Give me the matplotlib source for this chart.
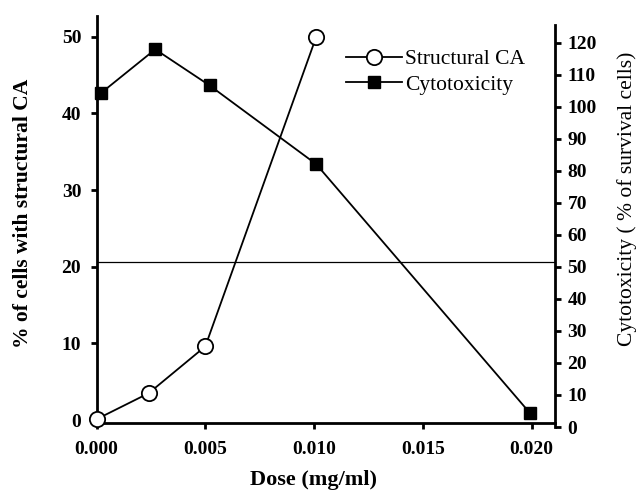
import matplotlib
matplotlib.use("Agg")
import matplotlib.pyplot as plt
from matplotlib.lines import Line2D

plt.rcParams['font.family'] = ['Liberation Serif', 'DejaVu Serif']

# Data
dose_ca = [0.0, 0.0024, 0.0050, 0.0101]
structural_ca = [0.1, 3.5, 9.6, 50.0]
dose_cyto = [0.0002, 0.0027, 0.0052, 0.0101, 0.0199]
cytotoxicity = [104.3, 118.0, 106.7, 82.1, 4.5]
ref_level = 20.6  # horizontal reference line (left axis units)

x_ticks = [0.000, 0.005, 0.010, 0.015, 0.020]
x_ticklabels = ["0.000", "0.005", "0.010", "0.015", "0.020"]
left_ticks = [0, 10, 20, 30, 40, 50]
right_ticks = list(range(0, 121, 10))

W, H = 643, 493
fig = plt.figure(figsize=(W / 100, H / 100), dpi=100)
left, right, bottom, top = 96.5, 555, 422.7, 16
ax = fig.add_axes([left / W, 1 - bottom / H, (right - left) / W, (bottom - top) / H])
r_bottom, r_top = 427, 25
ax2 = fig.add_axes([left / W, 1 - r_bottom / H, (right - left) / W, (r_bottom - r_top) / H],
                   sharex=ax)

fs_tick = 14
fs_lab = 15.5
ax.set_xlim(0, 0.02107)
ax.set_ylim(-0.35, 52.7)
ax2.set_ylim(0, 125.6)

# Reference line
ax.axhline(ref_level, color='black', lw=0.9)

# Structural CA
ax.plot(dose_ca, structural_ca, color='black', lw=1.3, marker='o', ms=11,
        markerfacecolor='white', markeredgecolor='black', markeredgewidth=1.3,
        zorder=5, clip_on=False)
# Cytotoxicity
ax2.plot(dose_cyto, cytotoxicity, color='black', lw=1.3, marker='s', ms=9,
         markerfacecolor='black', markeredgecolor='black', zorder=5, clip_on=False)

for s in ax.spines.values():
    s.set_linewidth(2)
ax.spines['top'].set_visible(False)
ax.spines['right'].set_visible(False)

ax2.patch.set_visible(False)
for k in ('left', 'top', 'bottom'):
    ax2.spines[k].set_visible(False)
ax2.spines['right'].set_linewidth(2)
ax2.yaxis.tick_right()
ax2.yaxis.set_label_position('right')
ax2.tick_params(axis='x', which='both', bottom=False, labelbottom=False)

ax.set_xticks(x_ticks)
ax.set_xticklabels(x_ticklabels, fontsize=fs_tick, fontweight='bold')
ax.set_yticks(left_ticks)
ax.set_yticklabels([str(t) for t in left_ticks], fontsize=fs_tick, fontweight='bold')
ax2.set_yticks(right_ticks)
ax2.set_yticklabels([str(t) for t in right_ticks], fontsize=fs_tick, fontweight='bold')

ax.tick_params(axis='y', direction='out', length=4, width=2, pad=7)
ax.tick_params(axis='x', direction='out', length=4, width=2, pad=9)
ax2.tick_params(axis='y', direction='out', length=4, width=2, pad=5)

ax.set_xlabel("Dose (mg/ml)", fontsize=16, fontweight='bold')
ax.set_ylabel("% of cells with structural CA", fontsize=fs_lab, fontweight='bold')
ax2.set_ylabel("Cytotoxicity ( % of survival cells)", fontsize=fs_lab)

ax.xaxis.set_label_coords((313 - left) / (right - left), (bottom - 470) / (bottom - top))
ax.yaxis.set_label_coords((33 - left) / (right - left), (bottom - 213) / (bottom - top))
ax2.yaxis.set_label_coords((617 - left) / (right - left), (r_bottom - 199) / (r_bottom - r_top))

handles = [
    Line2D([], [], color='black', lw=1.3, marker='o', ms=11, markerfacecolor='white',
           markeredgecolor='black', markeredgewidth=1.3),
    Line2D([], [], color='black', lw=1.3, marker='s', ms=9, markerfacecolor='black'),
]
ax2.legend(handles, ["Structural CA", "Cytotoxicity"], loc='upper left',
           bbox_to_anchor=(346 / W, 1 - 49 / H), bbox_transform=fig.transFigure,
           frameon=False, fontsize=15.5, handlelength=2.6, handletextpad=0.15,
           labelspacing=0.25, borderaxespad=0, borderpad=0)

fig.savefig("out.png", dpi=100)
